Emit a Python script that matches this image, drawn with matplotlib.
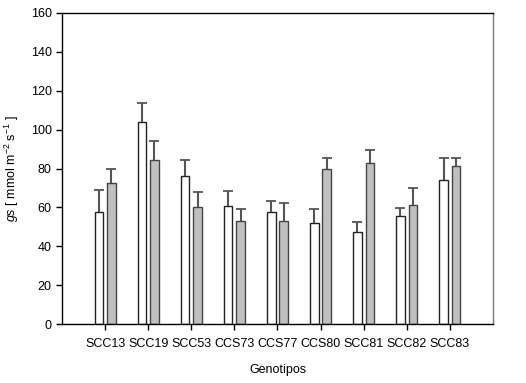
import matplotlib.pyplot as plt
import numpy as np

plt.rcParams['font.family'] = ['Liberation Sans', 'DejaVu Sans']
plt.rcParams['mathtext.fontset'] = 'custom'
plt.rcParams['mathtext.rm'] = 'Liberation Sans'
plt.rcParams['mathtext.it'] = 'Liberation Sans:italic'

genotipos = ['SCC13', 'SCC19', 'SCC53', 'CCS73', 'CCS77', 'CCS80', 'SCC81', 'SCC82', 'SCC83']
gs_blanco = [57.5, 104.0, 76.3, 60.9, 57.5, 51.9, 47.2, 55.5, 74.1]
err_blanco = [11.5, 9.8, 8.2, 7.4, 6.0, 7.5, 5.5, 4.1, 11.5]
gs_gris = [72.4, 84.5, 60.0, 52.9, 52.9, 79.8, 82.8, 61.1, 81.1]
err_gris = [7.2, 9.6, 8.1, 6.3, 9.2, 5.6, 6.7, 9.1, 4.5]

x = np.arange(1, len(genotipos) + 1)
w = 0.2
d = 0.145

fig = plt.figure(figsize=(5.26, 3.83), dpi=100)
ax = fig.add_axes([0.118, 0.153, 0.819, 0.814])

ekw = dict(ecolor='#555555', elinewidth=1.5, capsize=3.6, capthick=1.3)
b1 = ax.bar(x - d, gs_blanco, w, color='white', edgecolor='#222222', linewidth=1.0,
            yerr=[np.zeros(len(x)), err_blanco], error_kw=ekw, zorder=2)
b2 = ax.bar(x + d, gs_gris, w, color='#c0c0c0', edgecolor='#444444', linewidth=1.0,
            yerr=[np.zeros(len(x)), err_gris], error_kw=ekw, zorder=2)

# solo barra de error hacia arriba: ocultar la tapa inferior
for b in (b1, b2):
    caps = b.errorbar.lines[1]
    caps[0].set_visible(False)
    caps[1].set_color('#222222')

ax.set_xlim(0, 10)
ax.set_ylim(0, 160)
ax.set_yticks(np.arange(0, 161, 20))
ax.set_xticks(x)
ax.set_xticklabels(genotipos)
ax.tick_params(axis='both', direction='out', length=4, width=1, labelsize=9,
               top=False, right=False)
ax.tick_params(axis='x', pad=6)

for s in ['left', 'bottom', 'top']:
    ax.spines[s].set_color('black')
    ax.spines[s].set_linewidth(1.0)
ax.spines['right'].set_color('#777777')
ax.spines['right'].set_linewidth(1.0)

ax.set_xlabel('Genotipos', fontsize=9, labelpad=10)
ax.set_ylabel(r'$\mathit{gs}$ [ mmol m$^{\mathrm{-2}}$ s$^{\mathrm{-1}}$ ]', fontsize=9)
ax.yaxis.set_label_coords(-0.095, 0.5)

fig.savefig('out.png', dpi=100)
